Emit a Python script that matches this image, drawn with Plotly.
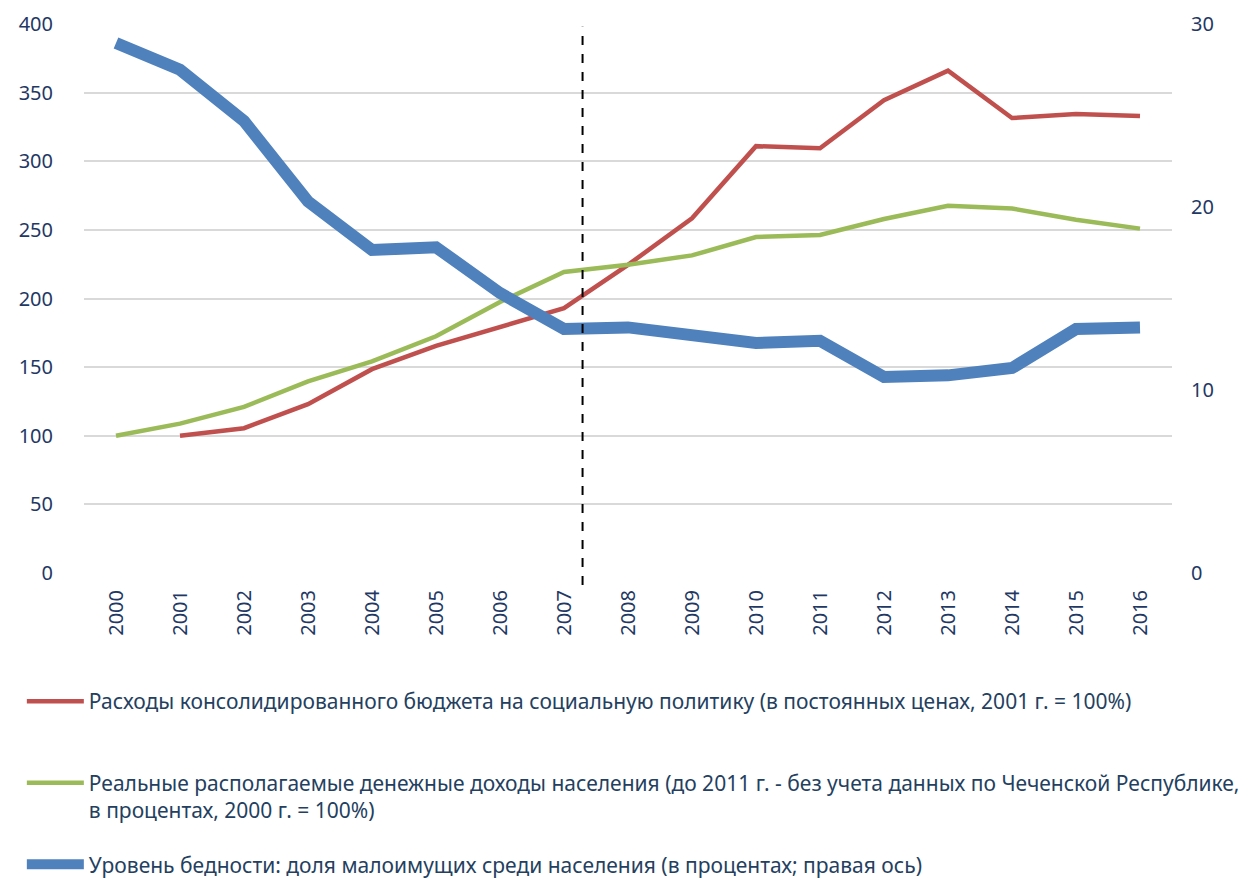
import plotly.graph_objects as go

years = list(range(2000, 2017))

social_spending = [None, 100, 105.5, 123, 148.5, 165.5, 179.5, 193, 224.5, 258.5, 311, 309.5, 344.5, 366, 331.5, 334.5, 333]
real_income = [100, 108.8, 121, 139.6, 154.2, 172.5, 197.5, 219.3, 224.6, 231.4, 244.8, 246.3, 257.9, 267.6, 265.6, 257.4, 250.9]
poverty = [28.96, 27.5, 24.7, 20.3, 17.65, 17.8, 15.3, 13.33, 13.42, 13.02, 12.57, 12.69, 10.71, 10.8, 11.2, 13.33, 13.42]

divider_year = 2007.29

names = [
    "Расходы консолидированного бюджета на социальную политику (в постоянных ценах, 2001 г. = 100%)<br>\u00a0",
    "Реальные располагаемые денежные доходы населения (до 2011 г. - без учета данных по Чеченской Республике,<br>в процентах, 2000 г. = 100%)",
    "Уровень бедности: доля малоимущих среди населения (в процентах; правая ось)",
]

left_ticks = list(range(0, 401, 50))
right_ticks = [0, 10, 20, 30]

TXT = "#1F3864"
FONT = "Noto Sans"
FS = 20

fig = go.Figure()
fig.add_trace(go.Scatter(x=years, y=social_spending, mode="lines", name=names[0],
                         line=dict(color="#C0504D", width=4.5), legendgroup="a",
                         connectgaps=False))
fig.add_trace(go.Scatter(x=years, y=real_income, mode="lines", name=names[1],
                         line=dict(color="#9BBB59", width=4.5), legendgroup="b"))
fig.add_trace(go.Scatter(x=years, y=poverty, mode="lines", name=names[2],
                         line=dict(color="#4F81BD", width=12), legendgroup="c",
                         yaxis="y2"))

fig.add_shape(type="line", xref="x", yref="paper", x0=divider_year, x1=divider_year,
              y0=-0.022, y1=0.995, line=dict(color="black", width=2, dash="dash"))

fig.update_layout(
    width=1248, height=881,
    margin=dict(l=84, r=76, t=24, b=308, autoexpand=False),
    paper_bgcolor="white", plot_bgcolor="white",
    font=dict(family=FONT, size=FS, color=TXT),
    xaxis=dict(range=[1999.5, 2016.5], tickvals=years, ticktext=[str(y) for y in years],
               tickangle=-90, showgrid=False, zeroline=False, showline=False,
               ticks="outside", ticklen=8, tickcolor="rgba(0,0,0,0)",
               tickfont=dict(size=FS, color=TXT)),
    yaxis=dict(range=[0, 400], tickvals=left_ticks, showgrid=True, gridcolor="#D9D9D9",
               gridwidth=1.5, zeroline=False, showline=False, ticklabelstandoff=30,
               tickfont=dict(size=FS, color=TXT)),
    yaxis2=dict(range=[0, 30], tickvals=right_ticks, overlaying="y", side="right",
                showgrid=False, zeroline=False, showline=False, ticklabelstandoff=18,
                tickfont=dict(size=FS, color=TXT)),
    legend=dict(orientation="v", xref="container", yref="container", x=0.0175, y=0.227,
                xanchor="left", yanchor="top", font=dict(size=21, color="#243F60"),
                tracegroupgap=24, valign="top", itemwidth=57, bgcolor="rgba(0,0,0,0)"),
    showlegend=True,
)

fig.write_html("out.html", post_script="document.body.style.margin='0';",
               config={"displayModeBar": False})
